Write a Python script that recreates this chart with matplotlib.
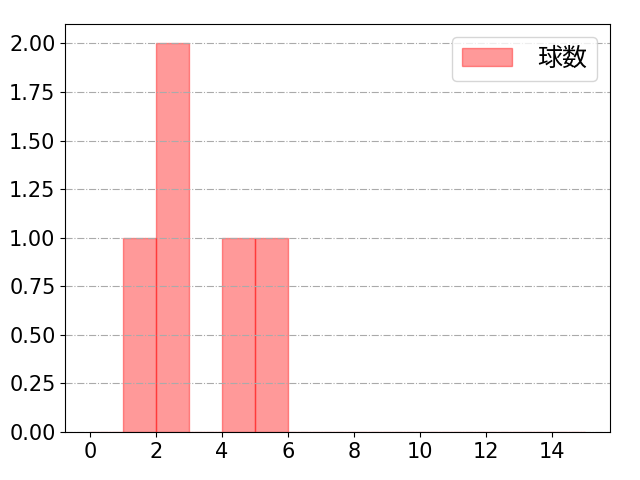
import matplotlib
matplotlib.use("Agg")
import matplotlib.pyplot as plt
import numpy as np

plt.rcParams['font.family'] = ['DejaVu Sans', 'Noto Sans CJK JP']
plt.rcParams['font.size'] = 15

pitches = [1, 2, 2, 4, 5]
bins = list(range(0, 16))
label = "球数"

fig, ax = plt.subplots(figsize=(6.4, 4.8), dpi=100)
ax.hist(pitches, bins=bins, color='red', alpha=0.4, edgecolor='red', label=label)
ax.grid(axis='y', linestyle='-.', color='#aaaaaa')
ax.set_xticks(range(0, 15, 2))
ax.yaxis.set_major_formatter(matplotlib.ticker.FormatStrFormatter('%.2f'))
ax.legend(loc='upper right', fontsize=18, handletextpad=1.0)
fig.subplots_adjust(left=0.102, right=0.953, top=0.95, bottom=0.1)
fig.savefig("out.png")
